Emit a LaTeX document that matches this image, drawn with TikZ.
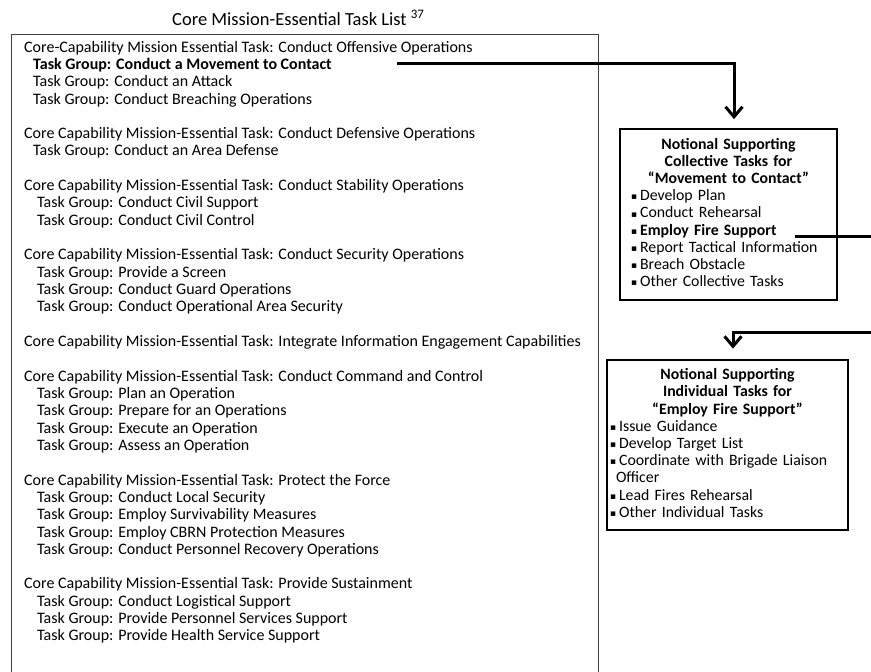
\documentclass[tikz,border=0pt]{standalone}
\usepackage{fontspec}
\setmainfont{Carlito}
\newfontfamily\symfont{DejaVu Sans}
\usetikzlibrary{arrows.meta}
\newcommand\sqbullet{\raisebox{0.8pt}{\symfont\fontsize{9}{9}\selectfont ▪}\hspace{3pt}}

\tikzset{
	row/.style={anchor=base west, inner sep=0pt, font=\fontsize{16}{17.2}\selectfont},
	taskbox/.style={draw, line width=2pt, inner ysep=8pt, font=\fontsize{15.8}{17.2}\selectfont},
	link/.style={line width=3pt, >={Straight Barb[length=10pt,width=17pt]}}
}

\begin{document}
\begin{tikzpicture}[x=1pt,y=1pt]
	\useasboundingbox (0,0) rectangle (871,-672);
	\node[anchor=base west, inner sep=0pt, font=\fontsize{18.5}{20}\selectfont] (title) at (172,-25) {Core Mission-Essential Task List \textsuperscript{37}};
	\draw [black!75, line width=0.9pt] (11,-690) |- (598,-34) -- (598,-690);

	% offensive operations
	\node[row] (off) at (24,-52) {Core-Capability Mission Essential Task: Conduct Offensive Operations};
	\node[row, font=\fontsize{16}{17.2}\selectfont\bfseries] (mvcontact) at (33,-69.3) {Task Group: Conduct a Movement to Contact};
	\node[row] (attack) at (33,-86.6) {Task Group: Conduct an Attack};
	\node[row] (breach) at (33,-104) {Task Group: Conduct Breaching Operations};

	% defensive operations
	\node[row] (def) at (24,-138.6) {Core Capability Mission-Essential Task: Conduct Defensive Operations};
	\node[row] (areadef) at (33,-155.9) {Task Group: Conduct an Area Defense};

	% stability operations
	\node[row] (stab) at (24,-190.6) {Core Capability Mission-Essential Task: Conduct Stability Operations};
	\node[row] (civsup) at (37,-207.9) {Task Group: Conduct Civil Support};
	\node[row] (civctl) at (37,-225.2) {Task Group: Conduct Civil Control};

	% security operations
	\node[row] (sec) at (24,-259.8) {Core Capability Mission-Essential Task: Conduct Security Operations};
	\node[row] (screen) at (37,-277.2) {Task Group: Provide a Screen};
	\node[row] (guard) at (37,-294.5) {Task Group: Conduct Guard Operations};
	\node[row] (areasec) at (37,-311.8) {Task Group: Conduct Operational Area Security};

	\node[row] (info) at (24,-346.4) {Core Capability Mission-Essential Task: Integrate Information Engagement Capabilities};

	% command and control
	\node[row] (cmd) at (24,-381.1) {Core Capability Mission-Essential Task: Conduct Command and Control};
	\node[row] (plan) at (37,-398.4) {Task Group: Plan an Operation};
	\node[row] (prep) at (37,-415.7) {Task Group: Prepare for an Operations};
	\node[row] (exec) at (37,-433) {Task Group: Execute an Operation};
	\node[row] (assess) at (37,-450.4) {Task Group: Assess an Operation};

	% protect the force
	\node[row] (prot) at (24,-485) {Core Capability Mission-Essential Task: Protect the Force};
	\node[row] (locsec) at (37,-502.3) {Task Group: Conduct Local Security};
	\node[row] (surv) at (37,-519.6) {Task Group: Employ Survivability Measures};
	\node[row] (cbrn) at (37,-537) {Task Group: Employ CBRN Protection Measures};
	\node[row] (recov) at (37,-554.3) {Task Group: Conduct Personnel Recovery Operations};

	% sustainment
	\node[row] (sust) at (24,-588.9) {Core Capability Mission-Essential Task: Provide Sustainment};
	\node[row] (logsup) at (37,-606.2) {Task Group: Conduct Logistical Support};
	\node[row] (perssup) at (37,-623.6) {Task Group: Provide Personnel Services Support};
	\node[row] (health) at (37,-640.9) {Task Group: Provide Health Service Support};

	% supporting task boxes
	\node[taskbox, inner xsep=11pt, text width=195pt] (colltasks) at (728.5,-214.5) {\centering\bfseries\strut Notional Supporting\\Collective Tasks for\\“Movement to Contact”\par
		\raggedright\mdseries\sqbullet Develop Plan\\\sqbullet Conduct Rehearsal\\\sqbullet\textbf{Employ Fire Support}\\\sqbullet Report Tactical Information\\\sqbullet Breach Obstacle\\\sqbullet Other Collective Tasks\strut};
	\node[taskbox, inner xsep=3pt, text width=235pt] (indtasks) at (727.5,-445) {\centering\bfseries\strut Notional Supporting\\Individual Tasks for\\“Employ Fire Support”\par
		\raggedright\mdseries\sqbullet Issue Guidance\\\sqbullet Develop Target List\\\sqbullet Coordinate with Brigade Liaison\\\hspace*{6pt}Officer\\\sqbullet Lead Fires Rehearsal\\\sqbullet Other Individual Tasks\strut};

	\coordinate (mvout) at (397,-63);
	\coordinate (fsout) at (795,-236);
	\coordinate (fsedge) at (871,-236);
	\coordinate (indedge) at (871,-332);
	\draw[link,->] (mvout) -| ([shift={(5.5,9)}]colltasks.north);
	\draw[link] (fsout) -- (fsedge);
	\draw[link,->] (indedge) -| ([shift={(5.5,10)}]indtasks.north);
\end{tikzpicture}
\end{document}
